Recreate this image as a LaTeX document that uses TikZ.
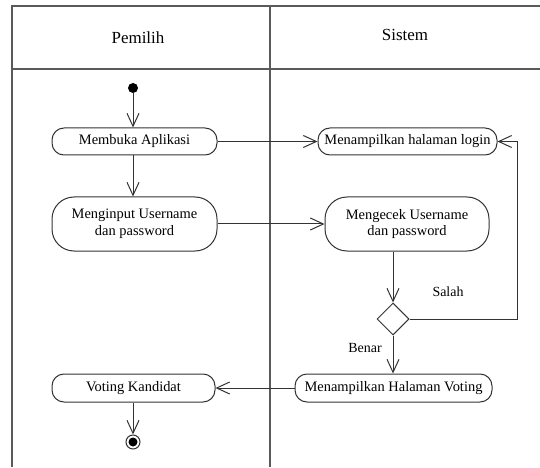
\documentclass[tikz,border=0pt]{standalone}
\usepackage{fontspec}
\setmainfont{Liberation Serif}
\usetikzlibrary{arrows.meta,shapes.geometric}
\definecolor{frameclr}{HTML}{5A5A5A}
\definecolor{lineclr}{HTML}{333333}
\begin{document}
\begin{tikzpicture}[x=1bp,y=-1bp,
  lane/.style={draw=frameclr,line width=1.7bp},
  act/.style={draw=lineclr,line width=1bp,rectangle,rounded corners=12bp,
    align=center,inner sep=2bp,font=\fontsize{14.5}{17}\selectfont},
  tallact/.style={act,rounded corners=22bp,minimum height=54bp},
  flow/.style={draw=lineclr,line width=1bp,
    -{Straight Barb[length=13bp,width=12bp,line width=1bp]}},
  guard/.style={font=\fontsize{14}{17}\selectfont},
  lanetitle/.style={font=\fontsize{17}{20}\selectfont}
]
\useasboundingbox (0,0) rectangle (540,468);

% swimlane frame
\draw[lane] (540,6) -- (12,6) -- (12,467);
\draw[lane] (12,69) -- (540,69);
\draw[lane] (270,6) -- (270,467);
\node[lanetitle] (pemilih) at (138,38) {Pemilih};
\node[lanetitle] (sistem) at (405,35) {Sistem};

% actions
\node[circle,fill=black,inner sep=0,minimum size=10bp] (start) at (133,88) {};
\node[act,minimum width=165bp,minimum height=27bp] (buka) at (134.5,141.5) {Membuka Aplikasi};
\node[tallact,minimum width=165bp] (input) at (134.5,224) {Menginput Username\\dan password};
\node[act,minimum width=179bp,minimum height=27bp] (login) at (407.5,141.5) {Menampilkan halaman login};
\node[tallact,minimum width=164bp] (cek) at (407,224) {Mengecek Username\\dan password};
\node[diamond,draw=lineclr,line width=1bp,minimum width=32bp,minimum height=32bp,inner sep=0] (dec) at (393,319) {};
\node[act,minimum width=197bp,minimum height=28bp] (hvote) at (393.5,388) {Menampilkan Halaman Voting};
\node[act,minimum width=163bp,minimum height=28bp] (vote) at (133.5,388) {Voting Kandidat};
\node[circle,draw=lineclr,line width=1bp,inner sep=0,minimum size=14bp] (end) at (133,442) {};
\fill (end.center) circle (4.5bp);
\coordinate (loop) at (517,319);

% guards
\node[guard] (salah) at (448,292) {Salah};
\node[guard] (benar) at (365,348) {Benar};

% control flow
\draw[flow] (start) -- (start |- buka.north);
\draw[flow] (buka.south -| start) -- (start |- input.north);
\draw[flow] (buka.east) -- (login.west);
\draw[flow] (input.east) -- (cek.west);
\draw[flow] (dec.north |- cek.south) -- (dec.north);
\draw[flow] (dec.east) -- (loop) |- (login.east);
\draw[flow] (dec.south) -- (hvote.north -| dec.south);
\draw[flow] (hvote.west) -- (vote.east);
\draw[flow] (vote.south -| start) -- (end.north);
\end{tikzpicture}
\end{document}
